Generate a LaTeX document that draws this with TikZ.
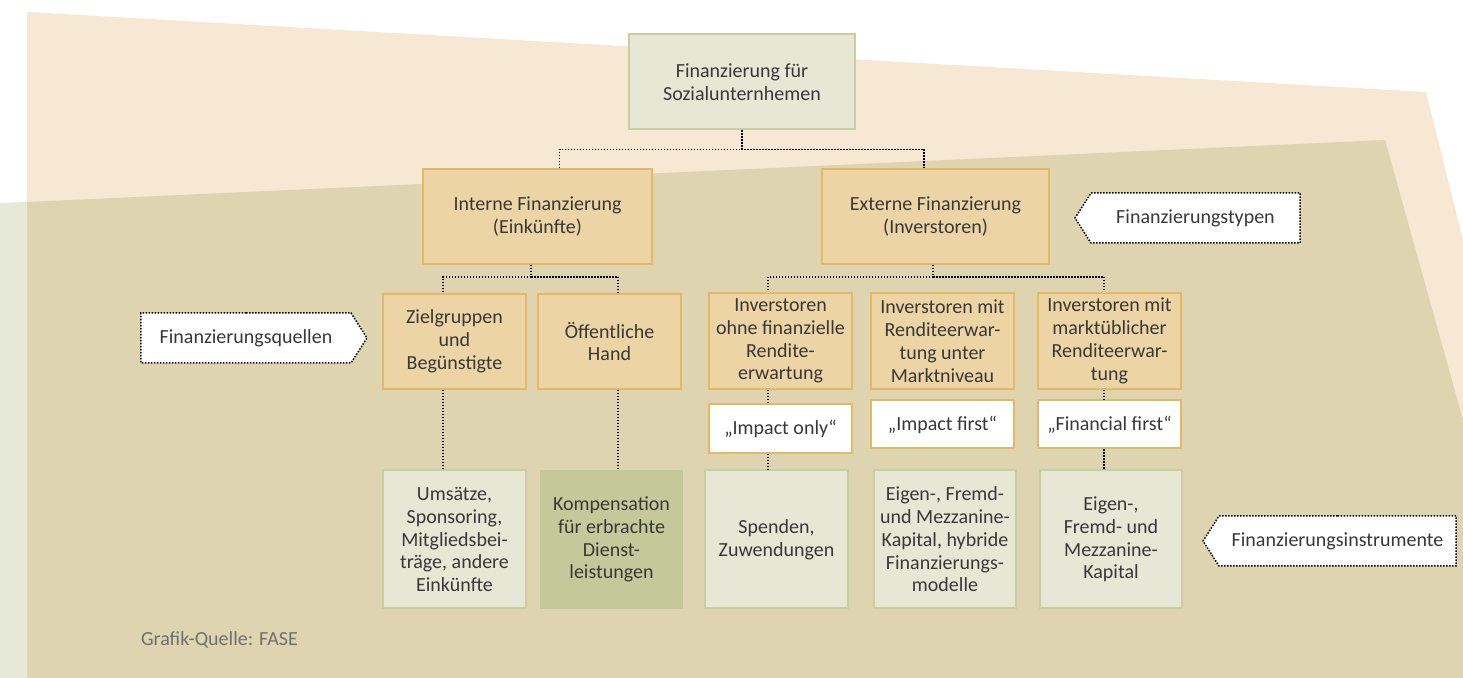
\documentclass[tikz,border=0pt]{standalone}
\usepackage{fontspec}
\setmainfont{Carlito}
\usetikzlibrary{shapes.symbols}

\definecolor{hellbeige}{HTML}{F6E8D3}
\definecolor{khaki}{HTML}{DED4B0}
\definecolor{hellgruen}{HTML}{E6E9D7}
\definecolor{orfill}{HTML}{EDD4A4}
\definecolor{orline}{HTML}{E4B866}
\definecolor{grfill}{HTML}{E6E8D5}
\definecolor{grline}{HTML}{C9CE9E}
\definecolor{grdark}{HTML}{C5C99A}
\definecolor{schrift}{HTML}{383838}
\definecolor{quelle}{HTML}{707070}

\begin{document}
\begin{tikzpicture}[x=0.5pt, y=-0.5pt,
	box/.style={rectangle, align=center, inner sep=1pt, text=schrift, font=\fontsize{10}{11.4}\selectfont, minimum width=71.5pt},
	orangebox/.style={box, fill=orfill, draw=orline, line width=1pt},
	weissbox/.style={box, fill=white, draw=orline, line width=1pt, minimum height=24pt},
	gruenbox/.style={box, fill=grfill, draw=grline, line width=1pt, minimum height=69pt},
	tagbox/.style={signal, signal from=nowhere, signal pointer angle=115, fill=white, draw=black, line width=0.75pt, dash pattern=on 0.75pt off 0.75pt, text=schrift, font=\fontsize{10}{11.4}\selectfont, minimum height=25pt, inner sep=1pt},
	conn/.style={draw=black, line width=0.75pt, dash pattern=on 0.75pt off 0.75pt}]
	\useasboundingbox (0,0) rectangle (1463,678);
	% Hintergrund
	\fill[hellbeige] (27,12) -- (1426,92) -- (1463,240) -- (1463,678) -- (27,678) -- cycle;
	\fill[khaki] (27,202) -- (1385,140) -- (1463,420) -- (1463,678) -- (27,678) -- cycle;
	\fill[hellgruen] (0,203) -- (27,202) -- (27,678) -- (0,678) -- cycle;

	\node [box, fill=grfill, draw=grline, line width=1pt, minimum width=113pt, minimum height=47.5pt] (top) at (742,82) {Finanzierung für\\Sozialunternhemen};
	\node [orangebox, minimum width=114.5pt, minimum height=47.5pt] (intern) at (537.5,216.5) {Interne Finanzierung\\(Einkünfte)};
	\node [orangebox, minimum width=113.5pt, minimum height=47.5pt] (extern) at (935.5,216.5) {Externe Finanzierung\\(Inverstoren)};

	\node [orangebox, minimum height=47.5pt] (ziel) at (454.5,341.5) {Zielgruppen\\und\\Begünstigte};
	\node [orangebox, minimum height=47.5pt] (oeff) at (609.5,341.5) {Öffentliche\\Hand};
	\node [orangebox, minimum height=48pt] (invA) at (780.5,341) {Inverstoren\\ohne finanzielle\\Rendite-\\erwartung};
	\node [orangebox, minimum height=48pt] (invB) at (942.5,341) {Inverstoren mit\\Renditeerwar-\\tung unter\\Marktniveau};
	\node [orangebox, minimum height=48pt] (invC) at (1109.5,341) {Inverstoren mit\\marktüblicher\\Renditeerwar-\\tung};

	\node [weissbox, minimum height=24.5pt] (impOnly) at (780.5,428.5) {„Impact only“};
	\node [weissbox] (impFirst) at (942.5,424.5) {„Impact first“};
	\node [weissbox] (finFirst) at (1109.5,424.5) {„Financial first“};

	\node [gruenbox] (umsatz) at (454.5,539.5) {Umsätze,\\Sponsoring,\\Mitgliedsbei-\\träge, andere\\Einkünfte};
	\node [box, fill=grdark, minimum height=69.5pt] (kompens) at (611.5,539.5) {Kompensation\\für erbrachte\\Dienst-\\leistungen};
	\node [gruenbox] (spenden) at (776.5,539.5) {Spenden,\\Zuwendungen};
	\node [gruenbox, minimum width=71pt] (eigenA) at (945,539.5) {Eigen-, Fremd-\\und Mezzanine-\\Kapital, hybride\\Finanzierungs-\\modelle};
	\node [gruenbox, minimum width=71pt] (eigenB) at (1111,539.5) {Eigen-,\\Fremd- und\\Mezzanine-\\Kapital};

	% Beschriftungen links / rechts
	\node [tagbox, signal to=west, minimum width=112.5pt] (tagTyp) at (1195.5,218) {Finanzierungstypen};
	\node [tagbox, signal to=east, minimum width=113pt] (tagQuel) at (246,338) {Finanzierungsquellen};
	\node [tagbox, signal to=west, minimum width=126.5pt] (tagInst) at (1337.5,541) {Finanzierungsinstrumente};

	\node [anchor=west, text=quelle, font=\fontsize{10}{11.4}\selectfont] (quelle) at (134,640) {Grafik-Quelle: FASE};

	% Verbindungen
	\draw [conn] (top.south) -- ++(0,19) -| ([xshift=11pt]intern.north);
	\draw [conn] (top.south) -- ++(0,19) -| ([xshift=-5.75pt]extern.north);
	\draw [conn] ([xshift=-3.25pt]intern.south) -- ++(0,12) -| ([xshift=-5.75pt]ziel.north);
	\draw [conn] ([xshift=-3.25pt]intern.south) -- ++(0,12) -| ([xshift=4.25pt]oeff.north);
	\draw [conn] ([xshift=-1.25pt]extern.south) -- ++(0,12) -| ([xshift=-6.25pt]invA.north);
	\draw [conn] ([xshift=-1.25pt]extern.south) -- ++(0,12) -| ([xshift=-2.75pt]invC.north);

	\coordinate (pZ) at ([xshift=-5.75pt]ziel.south);
	\coordinate (pO) at ([xshift=4.25pt]oeff.south);
	\coordinate (pA) at ([xshift=-6.25pt]invA.south);
	\coordinate (pI) at ([xshift=-6.25pt]impOnly.south);
	\coordinate (pC) at ([xshift=-2.75pt]invC.south);
	\coordinate (pF) at ([xshift=-2.75pt]finFirst.south);
	\draw [conn] (pZ) -- (pZ |- umsatz.north);
	\draw [conn] (pO) -- (pO |- kompens.north);
	\draw [conn] (pA) -- (pA |- impOnly.north);
	\draw [conn] (pI) -- (pI |- spenden.north);
	\draw [conn] (pC) -- (pC |- finFirst.north);
	\draw [conn] (pF) -- (pF |- eigenB.north);
\end{tikzpicture}
\end{document}
